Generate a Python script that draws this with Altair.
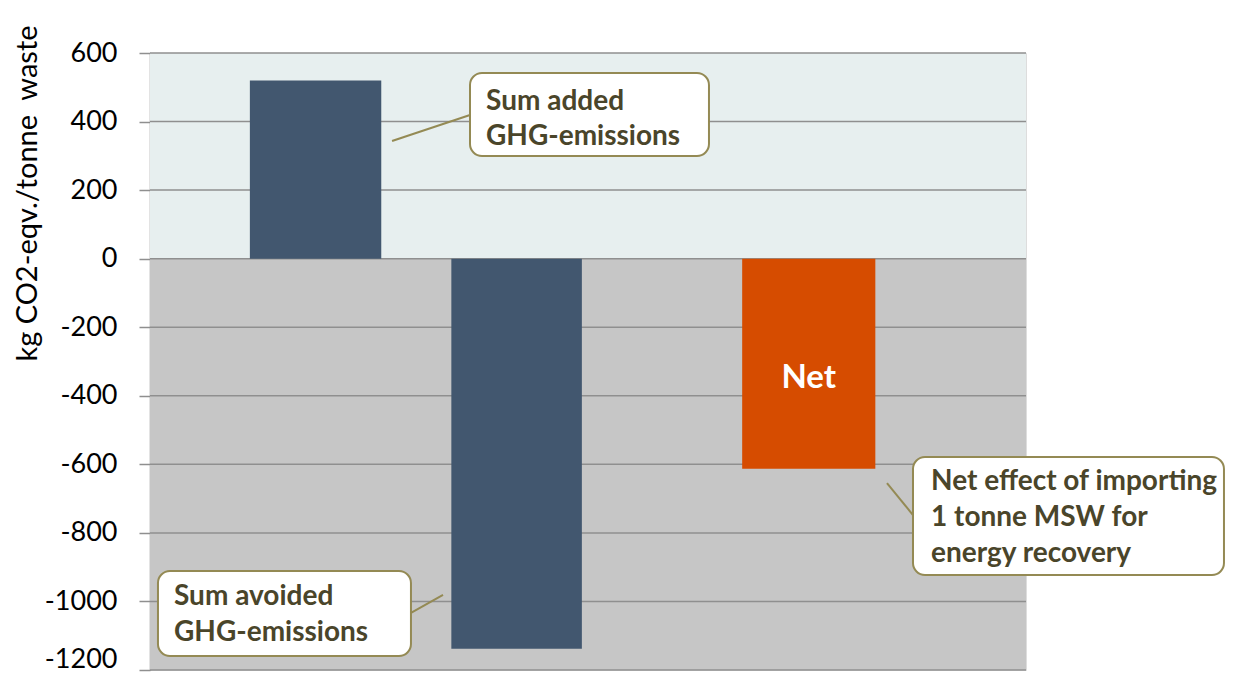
import altair as alt
import pandas as pd

# ---- data ----
categories = ["Sum added", "Sum avoided", "Net"]
values = [520, -1138, -613]
bar_colors = ["#42576F", "#42576F", "#D64C00"]
y_ticks = [600, 400, 200, 0, -200, -400, -600, -800, -1000, -1200]

# ---- layout (x in 0..100 plot units) ----
bar_x0 = [11.4, 34.4, 67.6]
bar_x1 = [26.4, 49.3, 82.8]

bars = pd.DataFrame({"cat": categories, "v": values, "x0": bar_x0, "x1": bar_x1,
                     "c": bar_colors})

xs = alt.Scale(domain=[0, 100], nice=False, zero=False)
ys = alt.Scale(domain=[-1200, 600], nice=False, zero=False)

OLIVE = "#948A54"
TXT = "#4A452A"
FONT = "Lato"

bg = alt.Chart(pd.DataFrame({"a": [0, 0], "b": [600, -1200],
                             "c": ["#E7EFEF", "#C6C6C6"]})).mark_rect().encode(
    x=alt.value(0), x2=alt.value(876),
    y=alt.Y("a:Q", scale=ys,
            axis=alt.Axis(values=y_ticks, title="kg CO2-eqv./tonne\u00a0 waste",
                          labelExpr="'' + datum.value",
                          labelOffset={"condition": {"test": "datum.value == -1200",
                                                     "value": -11}, "value": 0},
                          grid=False, domainColor="#8F8F8F", domainWidth=1.5,
                          tickColor="#8F8F8F", tickSize=11, tickWidth=1.5,
                          labelFont=FONT, labelFontSize=27, labelColor="#000000",
                          labelPadding=22,
                          titleFont=FONT, titleFontSize=29, titleFontWeight="normal",
                          titleColor="#000000", titleAnchor="start",
                          titleAngle=-90, titleX=-123, titleY=140,
                          titleAlign="center", titleBaseline="middle")),
    y2="b:Q",
    color=alt.Color("c:N", scale=None),
)

grid = alt.Chart(pd.DataFrame({"t": y_ticks})).mark_rule(
    color="#8F8F8F", strokeWidth=1.5).encode(
    y=alt.Y("t:Q", scale=ys), x=alt.value(0), x2=alt.value(876))

bar = alt.Chart(bars).mark_rect().encode(
    x=alt.X("x0:Q", scale=xs, axis=None), x2="x1:Q",
    y=alt.Y("v:Q", scale=ys), y2=alt.datum(0),
    color=alt.Color("c:N", scale=None),
)

net_label = alt.Chart(pd.DataFrame({"x": [(bar_x0[2] + bar_x1[2]) / 2], "y": [-348],
                                    "t": ["Net"]})).mark_text(
    font=FONT, fontSize=33, fontWeight="bold", color="white").encode(
    x=alt.X("x:Q", scale=xs), y=alt.Y("y:Q", scale=ys), text="t:N")

# ---- callouts ----
boxes = pd.DataFrame({
    "x0": [36.53, 0.91, 87.10], "x1": [63.81, 29.79, 122.6],
    "y0": [541.7, -911.2, -578.6], "y1": [299.5, -1159.2, -922.9]})
connectors = pd.DataFrame({
    "x0": [27.63, 29.79, 84.13], "x1": [36.53, 33.45, 87.10],
    "y0": [343.3, -1033.6, -654.5], "y1": [419.2, -981.1, -747.9]})
texts = pd.DataFrame({
    "x": [38.36, 38.36, 2.74, 2.74, 89.16, 89.16, 89.16],
    "y": [457.0, 354.9, -986.9, -1091.9, -651.6, -756.6, -861.6],
    "t": ["Sum added", "GHG-emissions", "Sum avoided", "GHG-emissions",
          "Net effect of importing", "1 tonne MSW for", "energy recovery"]})

conn = alt.Chart(connectors).mark_rule(color=OLIVE, strokeWidth=2).encode(
    x=alt.X("x0:Q", scale=xs), x2="x1:Q",
    y=alt.Y("y0:Q", scale=ys), y2="y1:Q")

box = alt.Chart(boxes).mark_rect(fill="white", stroke=OLIVE, strokeWidth=2,
                                 cornerRadius=12, clip=False).encode(
    x=alt.X("x0:Q", scale=xs), x2="x1:Q",
    y=alt.Y("y0:Q", scale=ys), y2="y1:Q")

txt = alt.Chart(texts).mark_text(font=FONT, fontSize=28, fontWeight="bold",
                                 color=TXT, align="left", baseline="middle").encode(
    x=alt.X("x:Q", scale=xs), y=alt.Y("y:Q", scale=ys), text="t:N")

chart = alt.layer(bg, grid, bar, net_label, conn, box, txt).properties(
    width=876, height=617,
    autosize=alt.AutoSizeParams(type="none"),
    padding={"left": 142, "top": 45, "right": 201, "bottom": 3},
).configure_view(stroke=None).configure(background="white")

chart.save("out.html", embed_options={"renderer": "svg", "actions": False})
